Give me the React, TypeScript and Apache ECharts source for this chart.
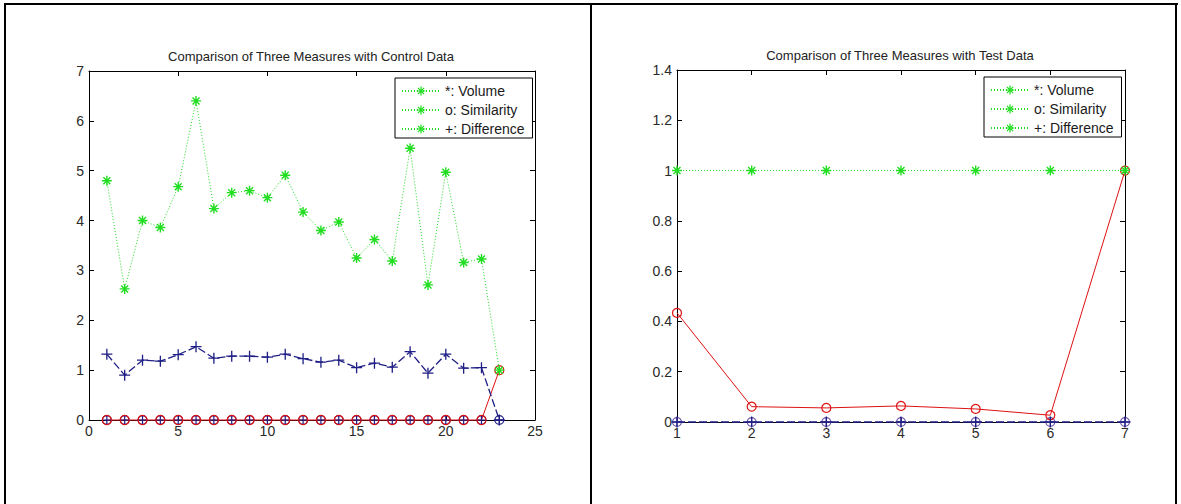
import React, { useEffect, useRef } from "react";
import * as echarts from "echarts";

// ---------- data ----------
const controlRuns = [1, 2, 3, 4, 5, 6, 7, 8, 9, 10, 11, 12, 13, 14, 15, 16, 17, 18, 19, 20, 21, 22, 23];
const controlVolume = [4.8, 2.63, 4.0, 3.86, 4.68, 6.4, 4.24, 4.56, 4.6, 4.46, 4.91, 4.17, 3.8, 3.97, 3.25, 3.62, 3.19, 5.45, 2.71, 4.97, 3.16, 3.23, 1.0];
const controlSimilarity = [0, 0, 0, 0, 0, 0, 0, 0, 0, 0, 0, 0, 0, 0, 0, 0, 0, 0, 0, 0, 0, 0, 1];
const controlDifference = [1.32, 0.9, 1.2, 1.18, 1.31, 1.47, 1.24, 1.28, 1.28, 1.26, 1.32, 1.23, 1.16, 1.2, 1.05, 1.14, 1.06, 1.37, 0.94, 1.32, 1.04, 1.05, 0];
const controlBaseline = [0, 0, 0, 0, 0, 0, 0, 0, 0, 0, 0, 0, 0, 0, 0, 0, 0, 0, 0, 0, 0, 0, 0];

const testRuns = [1, 2, 3, 4, 5, 6, 7];
const testVolume = [1, 1, 1, 1, 1, 1, 1];
const testSimilarity = [0.434, 0.061, 0.056, 0.064, 0.052, 0.027, 1.0];
const testDifference = [0, 0, 0, 0, 0, 0, 0];
const testBaseline = [0, 0, 0, 0, 0, 0, 0];

const legendNames = ["*: Volume", "o: Similarity", "+: Difference"];
const controlTitle = "Comparison of Three Measures with Control Data";
const testTitle = "Comparison of Three Measures with Test Data";

// ---------- styling ----------
const FONT = '"Liberation Sans", Arial, Helvetica, sans-serif';
const GREEN = "#22dd22";
const RED = "#dd1111";
const NAVY = "#1f1f85";
const PURPLE = "#6a58a6";

const STAR =
  "path://M0,4.3 L10,4.3 L10,5.7 L0,5.7 Z M4.3,0 L5.7,0 L5.7,10 L4.3,10 Z M1,2 L2,1 L9,8 L8,9 Z M8,1 L9,2 L2,9 L1,8 Z";
const PLUS = "path://M0,4.4 L10,4.4 L10,5.6 L0,5.6 Z M4.4,0 L5.6,0 L5.6,10 L4.4,10 Z";
const OPLUS =
  "path://M5,0 A5,5 0 1,1 5,10 A5,5 0 1,1 5,0 Z M5,1.2 A3.8,3.8 0 1,0 5,8.8 A3.8,3.8 0 1,0 5,1.2 Z M1.2,4.4 L8.8,4.4 L8.8,5.6 L1.2,5.6 Z M4.4,1.2 L5.6,1.2 L5.6,8.8 L4.4,8.8 Z";

function pairs(xs: number[], ys: number[]) {
  return xs.map((x, i) => [x, ys[i]]);
}

function axisBase(gridIndex: number, min: number, max: number, interval: number) {
  return {
    type: "value",
    gridIndex,
    min,
    max,
    interval,
    splitLine: { show: false },
    axisLine: { show: true, onZero: false, lineStyle: { color: "#000", width: 1 } },
    axisTick: { show: true, inside: true, length: 5, lineStyle: { color: "#000", width: 1 } },
  };
}

const tickLabel = { show: true, color: "#2a2a2a", fontSize: 14, fontFamily: FONT };

function oneDecimal(v: number) {
  return String(Math.round(v * 10) / 10);
}

function panelSeries(
  xi: number,
  runs: number[],
  vol: number[],
  sim: number[],
  diff: number[],
  base: number[],
  baseColor: string
) {
  const common = {
    type: "line",
    xAxisIndex: xi,
    yAxisIndex: xi,
    clip: false,
    silent: true,
    animation: false,
    emphasis: { disabled: true },
  };
  return [
    {
      ...common,
      name: "baseline" + xi,
      data: pairs(runs, base),
      symbol: OPLUS,
      symbolSize: 10,
      itemStyle: { color: baseColor },
      lineStyle: { opacity: 0 },
    },
    {
      ...common,
      name: "similarity" + xi,
      data: pairs(runs, sim),
      symbol: "circle",
      symbolSize: 9,
      itemStyle: { color: "rgba(255,255,255,0)", borderColor: RED, borderWidth: 1.2 },
      lineStyle: { color: RED, width: 1 },
    },
    {
      ...common,
      name: "difference" + xi,
      data: pairs(runs, diff),
      symbol: PLUS,
      symbolSize: 11,
      itemStyle: { color: NAVY },
      lineStyle: { color: NAVY, width: 1.3, type: [8, 3] },
    },
    {
      ...common,
      name: "volume" + xi,
      data: pairs(runs, vol),
      symbol: STAR,
      symbolSize: 10,
      itemStyle: { color: GREEN },
      lineStyle: { color: GREEN, width: 1, type: [1, 2] },
    },
  ];
}

const legendStyle = {
  data: legendNames,
  orient: "vertical",
  itemWidth: 38,
  itemHeight: 11,
  itemGap: 5,
  padding: [6, 8, 2, 6],
  borderColor: "#000",
  borderWidth: 1,
  borderRadius: 0,
  backgroundColor: "#fff",
  selectedMode: false,
  textStyle: { fontSize: 14, color: "#1a1a1a", fontFamily: FONT },
};

export default function App() {
  const ref = useRef<HTMLDivElement>(null);

  useEffect(() => {
    if (!ref.current) return;
    const chart = echarts.init(ref.current, null, { renderer: "svg" });

    const legendSeries = legendNames.map((n) => ({
      name: n,
      type: "line",
      xAxisIndex: 0,
      yAxisIndex: 0,
      data: [],
      symbol: STAR,
      symbolSize: 10,
      itemStyle: { color: GREEN },
      lineStyle: { color: GREEN, width: 1, type: [1, 2] },
      silent: true,
    }));

    const border = { stroke: "#000", lineWidth: 2 };
    const titleStyle = {
      fontSize: 13,
      fontFamily: FONT,
      fill: "#222",
      align: "center",
      verticalAlign: "middle",
      textAlign: "center",
      textVerticalAlign: "middle",
    };

    chart.setOption({
      animation: false,
      backgroundColor: "#fff",
      grid: [
        { left: 89, top: 71, width: 446, height: 349 },
        { left: 677, top: 70, width: 448, height: 352 },
      ],
      xAxis: [
        { ...axisBase(0, 0, 25, 5), position: "bottom", axisLabel: { ...tickLabel, margin: 4 } },
        { ...axisBase(0, 0, 25, 5), position: "top", axisLabel: { show: false } },
        { ...axisBase(1, 1, 7, 1), position: "bottom", axisLabel: { ...tickLabel, margin: 4 } },
        { ...axisBase(1, 1, 7, 1), position: "top", axisLabel: { show: false } },
      ],
      yAxis: [
        { ...axisBase(0, 0, 7, 1), position: "left", axisLabel: { ...tickLabel, margin: 5 } },
        { ...axisBase(0, 0, 7, 1), position: "right", axisLabel: { show: false } },
        {
          ...axisBase(1, 0, 1.4, 0.2),
          position: "left",
          axisLabel: { ...tickLabel, margin: 5, formatter: oneDecimal },
        },
        { ...axisBase(1, 0, 1.4, 0.2), position: "right", axisLabel: { show: false } },
      ],
      legend: [
        { ...legendStyle, left: 395, top: 78 },
        { ...legendStyle, left: 984, top: 77 },
      ],
      series: [
        ...legendSeries,
        ...panelSeries(0, controlRuns, controlVolume, controlSimilarity, controlDifference, controlBaseline, NAVY).map(
          (s) => ({ ...s, xAxisIndex: 0, yAxisIndex: 0 })
        ),
        ...panelSeries(2, testRuns, testVolume, testSimilarity, testDifference, testBaseline, PURPLE).map((s) => ({
          ...s,
          xAxisIndex: 2,
          yAxisIndex: 2,
        })),
      ],
      graphic: [
        { type: "line", shape: { x1: 4, y1: 4, x2: 1178, y2: 4 }, style: border, silent: true },
        { type: "line", shape: { x1: 5, y1: 3, x2: 5, y2: 504 }, style: border, silent: true },
        { type: "line", shape: { x1: 591, y1: 3, x2: 591, y2: 504 }, style: border, silent: true },
        { type: "line", shape: { x1: 1176, y1: 3, x2: 1176, y2: 504 }, style: border, silent: true },
        { type: "text", x: 311, y: 56, silent: true, style: { ...titleStyle, text: controlTitle } },
        { type: "text", x: 900, y: 55, silent: true, style: { ...titleStyle, text: testTitle } },
      ],
    });

    return () => chart.dispose();
  }, []);

  return (
    <div
      ref={ref}
      style={{ position: "absolute", left: 0, top: 0, width: 1181, height: 504, background: "#fff" }}
    />
  );
}
